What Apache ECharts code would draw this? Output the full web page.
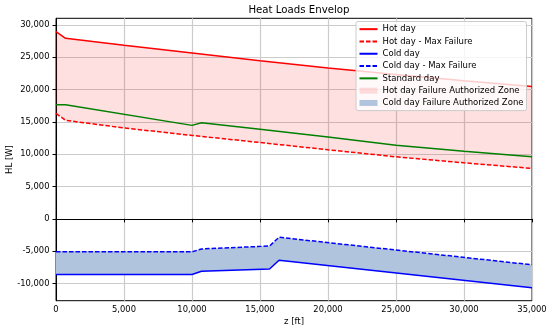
<!DOCTYPE html>
<html>
<head>
<meta charset="utf-8">
<script src="https://cdn.jsdelivr.net/npm/echarts@6/dist/echarts.min.js"></script>
<style>html,body{margin:0;padding:0;background:#fff}#c{width:550px;height:332px}</style>
</head>
<body>
<div id="c"></div>
<script>
// ---- data ----
const hotZ = [0, 700, 5000, 10000, 15000, 20000, 25000, 30000, 35000];
const hotDay = [28950, 27900, 26850, 25650, 24450, 23300, 22300, 21350, 20450];
const hotMaxFailure = [16300, 15230, 14050, 12900, 11800, 10680, 9590, 8660, 7800];
const stdZ = [0, 700, 10000, 10700, 15000, 20000, 25000, 30000, 35000];
const standardDay = [17650, 17650, 14450, 14850, 13840, 12650, 11380, 10460, 9590];
const coldZ = [0, 10000, 10700, 15700, 16400, 35000];
const coldDay = [-8600, -8600, -8100, -7750, -6400, -10650];
const coldMaxFailure = [-5100, -5100, -4650, -4200, -2850, -7100];
const xTicks = [0, 5000, 10000, 15000, 20000, 25000, 30000, 35000];
const yTicks = [-10000, -5000, 0, 5000, 10000, 15000, 20000, 25000, 30000];

const pairs = (xs, ys) => xs.map((x, i) => [x, ys[i]]);
const fmt = v => Number(v).toLocaleString('en-US');
const FONT = 'DejaVu Sans';

// band between two curves sharing the same x values, drawn as one polygon via the axes' scales
function bandSeries(name, xs, upper, lower, color) {
  return {
    name: name, type: 'custom', silent: true, z: 1,
    itemStyle: {color: color},
    data: xs.map((x, i) => [x, upper[i], lower[i]]),
    encode: {x: 0, y: [1, 2]},
    renderItem: function (params, api) {
      if (params.dataIndex !== 0) return null;
      const pts = [];
      for (let i = 0; i < xs.length; i++) pts.push(api.coord([xs[i], upper[i]]));
      for (let i = xs.length - 1; i >= 0; i--) pts.push(api.coord([xs[i], lower[i]]));
      return {
        type: 'polygon',
        shape: {points: pts},
        style: {fill: color, stroke: null}
      };
    }
  };
}

const chart = echarts.init(document.getElementById('c'), null, {renderer: 'canvas'});
const noSym = {opacity: 0};
chart.setOption({
  animation: false,
  backgroundColor: '#fff',
  title: {
    text: 'Heat Loads Envelop', left: 294, top: 0, textAlign: 'center',
    textStyle: {fontFamily: FONT, fontSize: 10.2, fontWeight: 'normal', color: '#000'}
  },
  grid: {left: 56, right: 18, top: 18.3, bottom: 31.3, containLabel: false, outerBoundsMode: 'none',
    show: true, borderColor: '#000', borderWidth: 1, backgroundColor: 'transparent'},
  legend: {
    left: 356, top: 21.5, orient: 'vertical', itemWidth: 18, itemHeight: 6, itemGap: 0,
    padding: [1.5, 3, 1.5, 2.5], backgroundColor: 'rgba(255,255,255,0.8)', borderColor: '#cccccc', borderWidth: 1, borderRadius: 2,
    textStyle: {fontFamily: FONT, fontSize: 8.5, color: '#000', lineHeight: 12.3},
    data: [
      {name: 'Hot day', itemStyle: noSym},
      {name: 'Hot day - Max Failure', itemStyle: noSym},
      {name: 'Cold day', itemStyle: noSym},
      {name: 'Cold day - Max Failure', itemStyle: noSym},
      {name: 'Standard day', itemStyle: noSym},
      {name: 'Hot day Failure Authorized Zone', icon: 'rect'},
      {name: 'Cold day Failure Authorized Zone', icon: 'rect'}
    ]
  },
  xAxis: {
    type: 'value', min: 0, max: 35000, interval: 5000,
    name: 'z [ft]', nameLocation: 'middle', nameGap: 17, nameMoveOverlap: false,
    nameTextStyle: {fontFamily: FONT, fontSize: 8.5, color: '#000'},
    axisLine: {show: true, lineStyle: {color: '#000', width: 1}},
    axisTick: {show: true, inside: false, length: 3.5, lineStyle: {color: '#000'}},
    axisLabel: {fontFamily: FONT, fontSize: 8.4, color: '#000', margin: 5, formatter: fmt},
    splitLine: {show: true, lineStyle: {color: '#cccccc', width: 1.2}}
  },
  yAxis: {
    type: 'value', min: -12650, max: 31000,
    name: 'HL [W]', nameLocation: 'middle', nameGap: 42, nameRotate: 90, nameMoveOverlap: false,
    nameTextStyle: {fontFamily: FONT, fontSize: 8.5, color: '#000'},
    axisLine: {show: true, lineStyle: {color: '#000', width: 1}},
    axisTick: {show: true, inside: false, length: 3.5, lineStyle: {color: '#000'}, customValues: yTicks},
    axisLabel: {fontFamily: FONT, fontSize: 8.4, color: '#000', margin: 6.5, formatter: fmt, customValues: yTicks},
    splitLine: {show: true, lineStyle: {color: '#cccccc', width: 1.2}}
  },
  series: [
    bandSeries('Hot day Failure Authorized Zone', hotZ, hotDay, hotMaxFailure, 'rgba(255,0,0,0.12)'),
    bandSeries('Cold day Failure Authorized Zone', coldZ, coldMaxFailure, coldDay, '#b0c4de'),
    {name: 'Hot day', type: 'line', data: pairs(hotZ, hotDay), symbol: 'none',
      lineStyle: {color: '#ff0000', width: 1.5}, itemStyle: {color: '#ff0000'}, z: 3},
    {name: 'Hot day - Max Failure', type: 'line', data: pairs(hotZ, hotMaxFailure), symbol: 'none',
      lineStyle: {color: '#ff0000', width: 1.5, type: [4.5, 2]}, itemStyle: {color: '#ff0000'}, z: 3},
    {name: 'Cold day', type: 'line', data: pairs(coldZ, coldDay), symbol: 'none',
      lineStyle: {color: '#0000ff', width: 1.5}, itemStyle: {color: '#0000ff'}, z: 3},
    {name: 'Cold day - Max Failure', type: 'line', data: pairs(coldZ, coldMaxFailure), symbol: 'none',
      lineStyle: {color: '#0000ff', width: 1.5, type: [4.5, 2]}, itemStyle: {color: '#0000ff'}, z: 3},
    {name: 'Standard day', type: 'line', data: pairs(stdZ, standardDay), symbol: 'none',
      lineStyle: {color: '#008000', width: 1.5}, itemStyle: {color: '#008000'}, z: 3}
  ]
});
</script>
</body>
</html>
